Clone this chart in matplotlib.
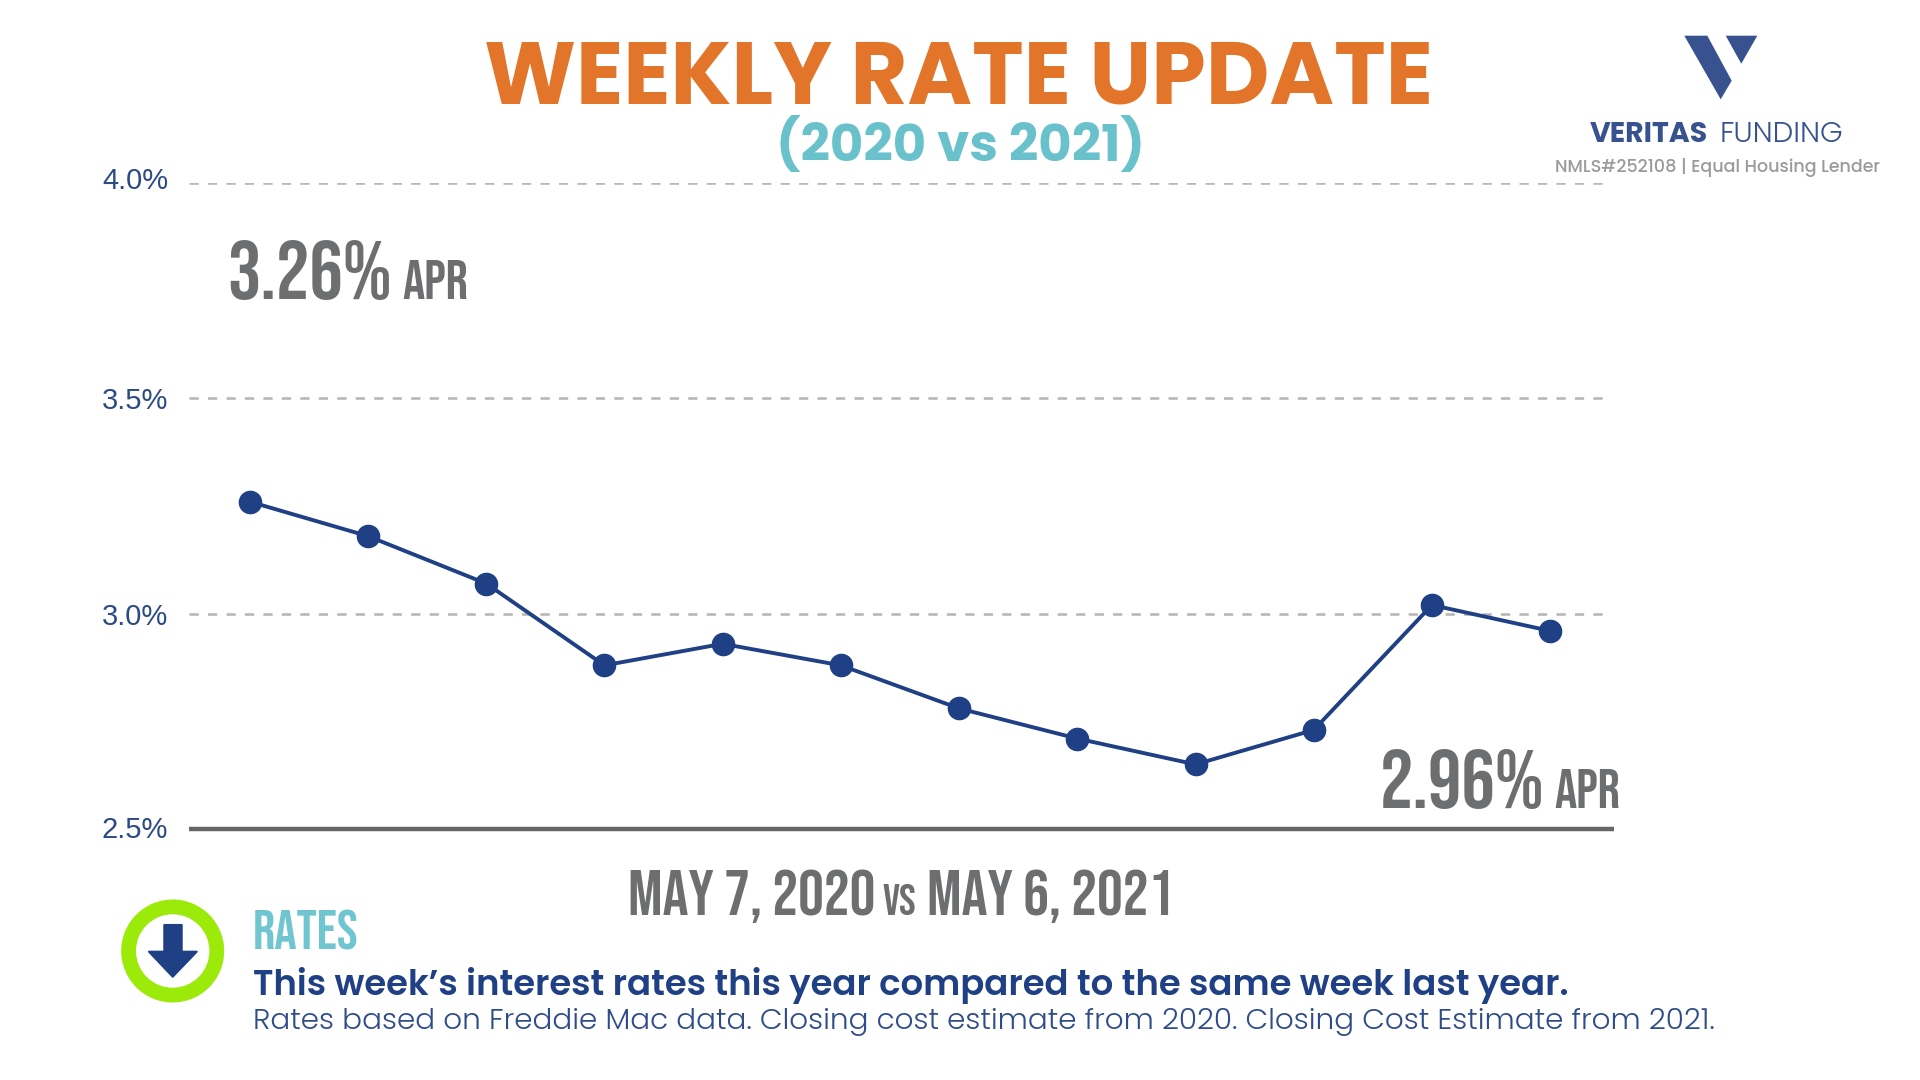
import matplotlib
matplotlib.use("Agg")
import matplotlib.pyplot as plt
from matplotlib.patches import Polygon, Wedge
from matplotlib.transforms import ScaledTranslation

# ---- data ----
weeks = list(range(12))
rates = [3.26, 3.18, 3.07, 2.88, 2.93, 2.88, 2.78, 2.71, 2.65, 2.73, 3.02, 2.96]
y_ticks = [2.5, 3.0, 3.5, 4.0]
y_tick_labels = ["2.5%", "3.0%", "3.5%", "4.0%"]
grid_levels = [3.0, 3.5, 4.0]

NAVY = "#1f4085"
TICK = "#2c4a85"
GREY = "#6d6e70"
TEAL = "#6fc5d0"
ORANGE = "#e3752b"
LOGO = "#38528f"
NARROW = ["Bebas Neue", "Oswald", "Liberation Sans"]
GEO = ["Poppins", "Open Sans"]

W, H = 1920, 1080
fig = plt.figure(figsize=(W / 100, H / 100), dpi=100, facecolor="white")

# ---- chart ----
ax = fig.add_axes([189 / W, 1 - 829 / H, (1614 - 189) / W, (829 - 183) / H])
ax.set_xlim(-0.514, 11.54)
ax.set_ylim(2.5, 4.0)
ax.set_yticks(y_ticks)
ax.set_yticklabels(y_tick_labels, family="Liberation Sans", fontsize=21, color=TICK)
ax.set_xticks([])
ax.tick_params(axis="y", length=0, pad=15)
for s in ("top", "left", "right"):
    ax.spines[s].set_visible(False)
ax.spines["bottom"].set_color("#666666")
ax.spines["bottom"].set_linewidth(3.2)
ax.spines["bottom"].set_capstyle("butt")
ax.hlines(grid_levels, -0.514, 11.48, color="#b8b8b8", linewidth=1.9,
          linestyles=[(0, (3.5, 3.5))], zorder=1)
ax.plot(weeks, rates, color=NAVY, linewidth=2.8, marker="o", markersize=16,
        markerfacecolor=NAVY, markeredgecolor=NAVY, clip_on=False, zorder=3)
for lbl, dy in zip(ax.get_yticklabels(), [2, 0, 0, 5]):
    lbl.set_transform(lbl.get_transform() + ScaledTranslation(0, dy / 100, fig.dpi_scale_trans))

# ---- overlay in pixel coordinates ----
ov = fig.add_axes([0, 0, 1, 1], facecolor="none")
ov.set_xlim(0, W)
ov.set_ylim(H, 0)
ov.axis("off")


def t(x, y, s, size, color, family=GEO, weight="normal", ha="left"):
    ov.text(x, y, s, fontsize=size, color=color, family=family, weight=weight,
            ha=ha, va="baseline")


t(959, 103, "WEEKLY RATE UPDATE", 63, ORANGE, weight="bold", ha="center")
t(960, 161, "(2020 vs 2021)", 37, "#69c2cb", weight="bold", ha="center")

# big callouts
t(227, 299, "3.26%", 60, GREY, NARROW, "bold")
t(402, 299, "APR", 40, GREY, NARROW, "bold")
t(1380, 808, "2.96%", 60, GREY, NARROW, "bold")
t(1554, 808, "APR", 40, GREY, NARROW, "bold")

# date line
t(628, 915, "MAY 7, 2020", 46.4, GREY, NARROW, "bold")
t(882, 915, "vs", 32, GREY, NARROW, "bold")
t(927, 915, "MAY 6, 2021", 46.4, GREY, NARROW, "bold")

# footer
t(253, 949, "RATES", 40, TEAL, NARROW, "bold")
t(253, 995, "This week\u2019s interest rates this year compared to the same week last year.",
  25.5, NAVY, weight="semibold")
t(253, 1029, "Rates based on Freddie Mac data. Closing cost estimate from 2020. Closing Cost Estimate from 2021.",
  21.25, "#2f4c8a", weight=300)

# logo
ov.add_patch(Polygon([(1684.3, 35.7), (1707.3, 35.7), (1731.7, 80.7), (1720.7, 99.3)], fc=LOGO, ec="none"))
ov.add_patch(Polygon([(1725.7, 35.7), (1757.3, 35.7), (1741.3, 63.7)], fc=LOGO, ec="none"))
t(1590, 142, "VERITAS", 20.5, LOGO, weight=700)
t(1720, 142, "FUNDING", 21, LOGO, weight=300)
t(1555, 172, "NMLS#252108 | Equal Housing Lender", 12.6, "#9b9b9b", weight="medium")

# icon
cx, cy = 172.7, 951
ov.add_patch(Wedge((cx, cy), 51.5, 0, 360, width=14.8, fc="#9bea0a", ec="none"))
ov.add_patch(Polygon([(164.3, 925), (181.7, 925), (181.7, 951.7), (196.7, 951.7), (172.7, 976.7),
                      (149, 951.7), (164.3, 951.7)], fc=NAVY, ec=NAVY, lw=1.5, joinstyle="round"))

fig.savefig("out.png", dpi=100, facecolor="white")
